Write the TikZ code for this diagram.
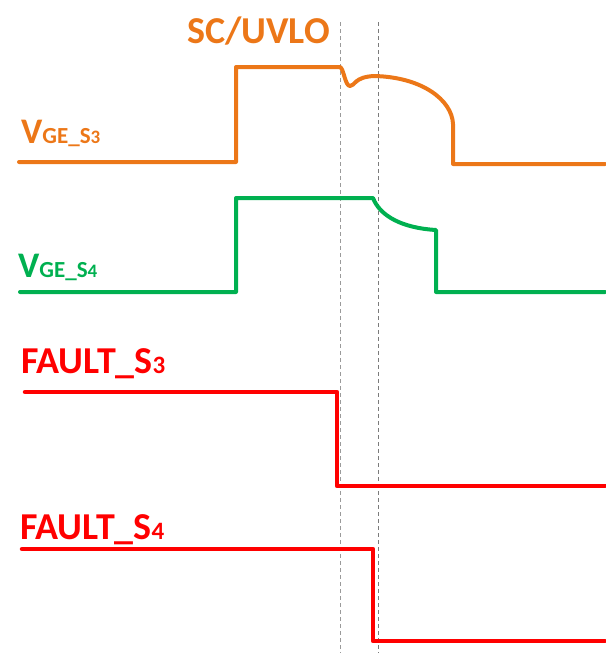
\documentclass[tikz,border=0pt]{standalone}
\usepackage{fontspec}
\setmainfont{Carlito}
\definecolor{Amber}{HTML}{EC7718}
\definecolor{Leaf}{HTML}{00B050}
\definecolor{Alarm}{HTML}{FF0000}
\definecolor{Guide}{HTML}{9A9A9A}
\tikzset{
  wave/.style={line width=4pt,line cap=round,line join=round},
  guide/.style={draw=Guide,line width=0.8pt,dash pattern=on 4pt off 3pt},
  siglabel/.style={anchor=base west,inner sep=0pt,font=\fontsize{38}{42}\selectfont\bfseries}
}
\newcommand{\vgesig}[1]{{\fontsize{36}{40}\selectfont V}{\fontsize{23}{26}\selectfont GE\_S{\fontsize{19}{21}\selectfont #1}}}
\newcommand{\faultsig}[1]{FAULT\_S{\fontsize{25}{27}\selectfont #1}}

\begin{document}
\begin{tikzpicture}[x=1pt,y=-1pt]
  \useasboundingbox (0,0) rectangle (605,653);
  % guide lines
  \coordinate (g1top) at (340,22);
  \coordinate (g1bot) at (340,653);
  \coordinate (g2top) at (378,22);
  \coordinate (g2bot) at (378,653);
  \draw[guide] (g1top) -- (g1bot);
  \draw[guide,Guide!80!black] (g2top) -- (g2bot);
  % labels
  \node[siglabel,text=Amber] (sc) at (187,43) {SC/UVLO};
  \node[siglabel,text=Amber] (vge3) at (21,143) {\vgesig{3}};
  \node[siglabel,text=Leaf] (vge4) at (18,277) {\vgesig{4}};
  \node[siglabel,text=Alarm] (flt3) at (21,373) {\faultsig{3}};
  \node[siglabel,text=Alarm] (flt4) at (20,539) {\faultsig{4}};
  % VGE S3
  \draw[wave,Amber] (19,162) -- (236,162) -- (236,67) -- (340,67)
    .. controls (344,69) and (345,86) .. (350,86)
    .. controls (355,86) and (354,77) .. (374,76)
    .. controls (422,77) and (452,100) .. (453,124)
    -- (453,164) -- (605,164);
  % VGE S4
  \draw[wave,Leaf] (20,292) -- (236,292) -- (236,198) -- (373,198)
    .. controls (380,216) and (402,228) .. (436,230)
    -- (436,292) -- (605,292);
  % faults
  \draw[wave,Alarm,line width=4.5pt] (25,392) -- (337,392) -- (337,486) -- (605,486);
  \draw[wave,Alarm,line width=4.5pt] (22,549) -- (373,549) -- (373,641) -- (605,641);
\end{tikzpicture}
\end{document}
